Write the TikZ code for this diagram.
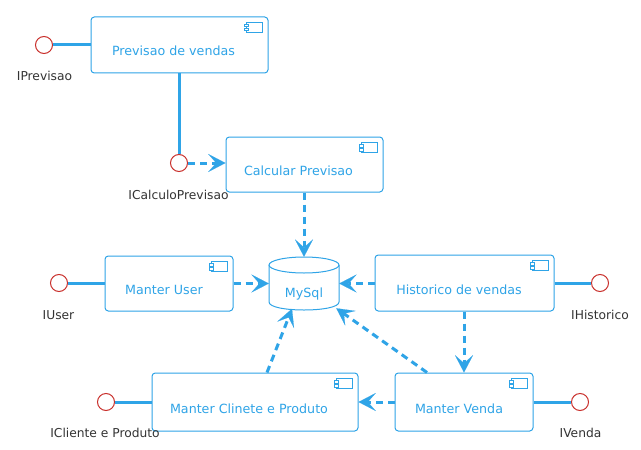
\documentclass[tikz,border=0pt]{standalone}
\usepackage{fontspec}
\setmainfont{DejaVu Sans}
\usetikzlibrary{arrows.meta,calc,fit}
\definecolor{cblue}{HTML}{2FA4E7}
\definecolor{cred}{HTML}{C9302C}
\definecolor{cgray}{HTML}{333333}
\tikzset{
  compbox/.style={draw=cblue,line width=0.75pt,rounded corners=2.5pt,inner sep=0pt,fill=white},
  iconst/.style={draw=cblue,line width=0.75pt,fill=white},
  comptext/.style={text=cblue,font=\fontsize{9.5pt}{11pt}\selectfont,anchor=base,inner sep=0pt},
  iface/.style={circle,draw=cred,line width=0.75pt,fill=white,minimum size=12.75pt,inner sep=0pt},
  ilabel/.style={text=cgray,font=\fontsize{9.2pt}{11pt}\selectfont,anchor=base,inner sep=0pt},
  solidlink/.style={draw=cblue,line width=2.25pt},
  dep/.style={draw=cblue,line width=2.25pt,dash pattern=on 5.25pt off 3.75pt,
     -{Stealth[length=13pt,width=13.5pt,inset=6pt,line width=0.1pt]}},
}
\newcommand{\compicon}[1]{%
  \draw[iconst] ($(#1.north east)+(-22,6)$) rectangle ++(16,10);
  \draw[iconst] ($(#1.north east)+(-24,8)$) rectangle ++(4,2.5);
  \draw[iconst] ($(#1.north east)+(-24,12)$) rectangle ++(4,2.5);
}
\begin{document}
\begin{tikzpicture}[x=0.75pt,y=-0.75pt]
\useasboundingbox (0,0) rectangle (641,449);
\fill[white] (0,0) rectangle (641,449);

% components
\node[compbox,fit={(91,17) (268,73)}] (prev) {};
\compicon{prev}
\node[comptext] (prevt) at ($(prev.center)+(-6,11)$) {Previsao de vendas};

\node[compbox,fit={(226,137) (383,192)}] (calc) {};
\compicon{calc}
\node[comptext] (calct) at ($(calc.center)+(-6,11)$) {Calcular Previsao};

\node[compbox,fit={(105,256) (233,311)}] (user) {};
\compicon{user}
\node[comptext] (usert) at ($(user.center)+(-5,11)$) {Manter User};

\node[compbox,fit={(375,255) (554,311)}] (hist) {};
\compicon{hist}
\node[comptext] (histt) at ($(hist.center)+(-5.5,11)$) {Historico de vendas};

\node[compbox,fit={(152,373) (358,431)}] (cli) {};
\compicon{cli}
\node[comptext] (clit) at ($(cli.center)+(-6,11)$) {Manter Clinete e Produto};

\node[compbox,fit={(395,373) (533,431)}] (venda) {};
\compicon{venda}
\node[comptext] (vendat) at ($(venda.center)+(-5,11)$) {Manter Venda};

% database
\node[inner sep=0pt,fit={(269,257) (339,310)}] (mysql) {};
\draw[draw=cblue,line width=0.75pt,fill=white] (269,265) -- (269,302)
   .. controls (269,312.67) and (339,312.67) .. (339,302) -- (339,265);
\draw[draw=cblue,line width=0.75pt,fill=white] (304,265) ellipse [x radius=35,y radius=8];
\node[comptext] (mysqlt) at (304,297) {MySql};

% interfaces
\node[iface] (ip) at (44,45) {};
\node[ilabel] (ipl) at (44.5,81) {IPrevisao};
\node[iface] (icp) at (179,163) {};
\node[ilabel] (icpl) at (178.5,199) {ICalculoPrevisao};
\node[iface] (iu) at (59,283) {};
\node[ilabel] (iul) at (58.5,319) {IUser};
\node[iface] (ih) at (600,283) {};
\node[ilabel] (ihl) at (600,319) {IHistorico};
\node[iface] (icl) at (106,402) {};
\node[ilabel] (icll) at (105,437) {ICliente e Produto};
\node[iface] (iv) at (580,402) {};
\node[ilabel] (ivl) at (580.5,437) {IVenda};

% solid links
\draw[solidlink] (ip.east) -- (ip.east -| prev.west);
\draw[solidlink] (prev.south -| icp) -- (icp.north);
\draw[solidlink] (iu.east) -- (iu.east -| user.west);
\draw[solidlink] (hist.east |- ih) -- (ih.west);
\draw[solidlink] (icl.east) -- (icl.east -| cli.west);
\draw[solidlink] (venda.east |- iv) -- (iv.west);

% dependencies
\draw[dep] (icp.east) -- (icp.east -| calc.west);
\draw[dep] (calc.south -| mysql.north) -- (mysql.north);
\draw[dep] (user.east |- mysql.center) -- (mysql.west);
\draw[dep] (hist.west |- mysql.center) -- (mysql.east);
\draw[dep] (hist.south -| venda.north) -- (venda.north);
\draw[dep] (venda.west |- cli.east) -- (cli.east);
\draw[dep] ($(cli.north)+(12,0)$) -- ($(mysql.south)+(-12,-1.5)$);
\draw[dep] ($(venda.north)+(-37,0)$) -- ($(mysql.south east)+(-3,-2)$);
\end{tikzpicture}
\end{document}
